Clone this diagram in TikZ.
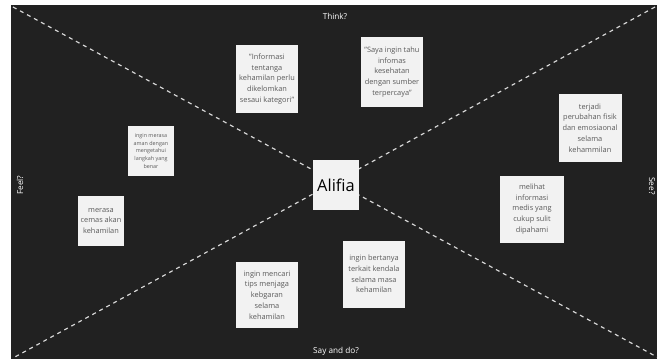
\documentclass[tikz,border=0pt]{standalone}
\usepackage{fontspec}
\setmainfont{Open Sans}
\definecolor{boardgray}{HTML}{212121}
\definecolor{notewhite}{HTML}{F2F2F2}
\definecolor{notetext}{HTML}{5A5A5A}

\tikzset{
  stickynote/.style={fill=notewhite, text=notetext, align=center, inner sep=1.5pt,
    font=\fontsize{6.3}{9.2}\selectfont, minimum width=#1},
  sidelabel/.style={text=white, font=\fontsize{7}{8}\selectfont},
  divider/.style={white!85!black, line width=1pt, dash pattern=on 3.4pt off 3.4pt}
}

\begin{document}
\begin{tikzpicture}[x=0.03cm,y=-0.03cm]
  \useasboundingbox (0,0) rectangle (660,361);
  \fill[boardgray] (11,5) rectangle (657,359);
  % corners of the board
  \coordinate (tl) at (13,7);
  \coordinate (tr) at (655,7);
  \coordinate (bl) at (13,358);
  \coordinate (br) at (657,357);
  \draw[divider] (tl) -- (br);
  \draw[divider] (tr) -- (bl);
  % quadrant labels
  \node[sidelabel] (think) at (335,16) {Think?};
  \node[sidelabel] (saydo) at (336,351) {Say and do?};
  \node[sidelabel,rotate=90] (feel) at (20,185) {Feel?};
  \node[sidelabel,rotate=-90] (see) at (652,186) {See?};
  % persona
  \node[fill=notewhite, minimum width=1.38cm, minimum height=1.5cm, inner sep=0pt,
    font=\fontsize{14}{16}\selectfont] (alifia) at (336,185) {Alifia};
  % think
  \node[stickynote=1.86cm, minimum height=2.04cm] (think1) at (267,79)
    {"Informasi\\tentanga\\kehamilan perlu\\dikelomkan\\sesaui kategori"};
  \node[stickynote=1.86cm, minimum height=2.1cm] (think2) at (392,72)
    {"Saya ingin tahu\\infomas\\kesehatan\\dengan sumber\\terpercaya"};
  % feel
  \node[stickynote=1.38cm, minimum height=1.5cm,
    font=\fontsize{4.6}{6.6}\selectfont] (feel1) at (151,151)
    {ingin merasa\\aman dengan\\mengetahui\\langkah yang\\benar};
  \node[stickynote=1.38cm, minimum height=1.5cm] (feel2) at (101,221)
    {merasa\\cemas akan\\kehamilan};
  % see
  \node[stickynote=1.89cm, minimum height=2.04cm] (see1) at (590,128)
    {terjadi\\perubahan fisik\\dan emosiaonal\\selama\\kehammilan};
  \node[stickynote=1.92cm, minimum height=2.01cm] (see2) at (532,209)
    {melihat\\informasi\\medis yang\\cukup sulit\\dipahami};
  % say and do
  \node[stickynote=1.86cm, minimum height=1.98cm] (say1) at (267,295)
    {ingin mencari\\tips menjaga\\kebgaran\\selama\\kehamilan};
  \node[stickynote=1.86cm, minimum height=2.01cm] (say2) at (374,274)
    {ingin bertanya\\terkait kendala\\selama masa\\kehamilan};
\end{tikzpicture}
\end{document}
